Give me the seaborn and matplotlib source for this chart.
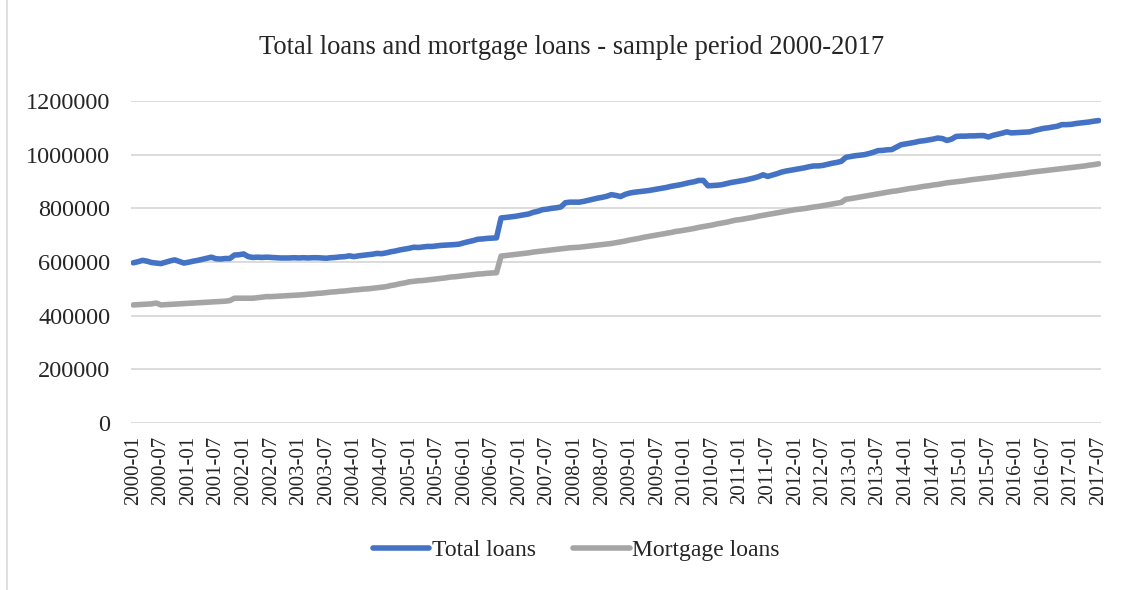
import numpy as np
import pandas as pd
import matplotlib
matplotlib.use("Agg")
import matplotlib.pyplot as plt
from matplotlib.lines import Line2D
import seaborn as sns

# Monthly balances (thousands), January 2000 - July 2017
total_loans_k = [
    597, 601, 606, 603, 598, 596, 594, 599, 604, 608, 602, 596,            # 2000
    599, 603, 606, 610, 614, 618, 612, 611, 613, 613, 626, 627,            # 2001
    630, 620, 617, 618, 617, 618, 617, 616, 615, 615, 615, 616,            # 2002
    615, 616, 615, 616, 616, 615, 614, 616, 617, 619, 620, 623,            # 2003
    620, 623, 625, 627, 629, 632, 631, 634, 638, 641, 645, 648,            # 2004
    651, 655, 654, 656, 658, 658, 660, 662, 663, 664, 665, 667,            # 2005
    672, 676, 680, 685, 686, 688, 689, 690, 764, 766, 768, 770,            # 2006
    773, 776, 779, 785, 789, 795, 797, 800, 802, 805, 821, 823,            # 2007
    823, 823, 826, 830, 834, 838, 841, 845, 851, 848, 844, 852,            # 2008
    857, 860, 862, 864, 866, 869, 872, 875, 878, 882, 885, 888,            # 2009
    892, 896, 899, 904, 904, 884, 885, 886, 888, 892, 896, 899,            # 2010
    902, 905, 909, 913, 918, 925, 919, 924, 929, 935, 939, 942,            # 2011
    945, 948, 951, 955, 958, 958, 960, 964, 968, 971, 975, 990,            # 2012
    993, 996, 998, 1000, 1004, 1009, 1015, 1016, 1018, 1019, 1028, 1037,   # 2013
    1040, 1043, 1046, 1050, 1052, 1055, 1058, 1062, 1060, 1053, 1058, 1068,  # 2014
    1069, 1069, 1070, 1070, 1071, 1071, 1066, 1072, 1076, 1080, 1085, 1081,  # 2015
    1082, 1083, 1084, 1085, 1090, 1094, 1098, 1100, 1103, 1106, 1112, 1112,  # 2016
    1113, 1116, 1118, 1120, 1122, 1125, 1127,                               # 2017
]

mortgage_loans_k = [
    440, 441, 442, 443, 444, 447, 440, 441, 442, 443, 444, 445,            # 2000
    446, 447, 448, 449, 450, 451, 452, 453, 454, 456, 465, 465,            # 2001
    465, 465, 465, 467, 469, 471, 471, 472, 473, 474, 475, 476,            # 2002
    477, 478, 480, 481, 483, 484, 486, 488, 489, 491, 492, 494,            # 2003
    496, 497, 499, 500, 502, 504, 506, 508, 512, 515, 519, 522,            # 2004
    526, 528, 530, 531, 533, 535, 537, 539, 541, 544, 545, 547,            # 2005
    549, 551, 553, 555, 556, 558, 559, 560, 622, 624, 626, 628,            # 2006
    630, 632, 634, 637, 639, 641, 643, 645, 647, 649, 651, 653,            # 2007
    654, 655, 657, 659, 661, 663, 665, 667, 669, 672, 675, 678,            # 2008
    682, 685, 688, 692, 695, 698, 701, 704, 707, 710, 714, 716,            # 2009
    719, 722, 725, 729, 732, 735, 738, 742, 745, 748, 752, 756,            # 2010
    758, 761, 764, 767, 771, 774, 777, 780, 783, 786, 789, 792,            # 2011
    795, 797, 799, 802, 805, 807, 810, 813, 816, 819, 822, 834,            # 2012
    836, 839, 842, 845, 848, 851, 854, 857, 860, 863, 865, 868,            # 2013
    871, 874, 876, 879, 882, 884, 887, 889, 892, 895, 897, 899,            # 2014
    901, 903, 906, 908, 910, 912, 914, 916, 918, 921, 923, 925,            # 2015
    927, 929, 931, 934, 936, 938, 940, 942, 944, 946, 948, 950,            # 2016
    952, 954, 956, 958, 961, 963, 966,                                      # 2017
]

months = pd.period_range("2000-01", "2017-07", freq="M").strftime("%Y-%m").tolist()
series_names = ["Total loans", "Mortgage loans"]
series_colors = ["#4472C4", "#A5A5A5"]
y_ticks = [0, 200000, 400000, 600000, 800000, 1000000, 1200000]

idx = np.arange(len(months))
df = pd.DataFrame({
    "idx": np.concatenate([idx, idx]),
    "value": np.array(total_loans_k + mortgage_loans_k) * 1000,
    "series": [series_names[0]] * len(idx) + [series_names[1]] * len(idx),
})

sns.set_theme(style="white")
plt.rcParams["font.family"] = ["Liberation Serif", "DejaVu Serif"]

fig = plt.figure(figsize=(11.3, 5.9), dpi=100)
ax = fig.add_axes([131 / 1130, 1 - 423 / 590, 970 / 1130, 322 / 590])

sns.lineplot(data=df, x="idx", y="value", hue="series", hue_order=series_names,
             palette=series_colors, linewidth=4.0, ax=ax, legend=False)
for ln in ax.lines:
    ln.set_solid_capstyle("round")
    ln.set_solid_joinstyle("round")

ax.set_xlim(-0.5, len(months) - 0.5)
ax.set_ylim(0, 1200000)
ax.set_yticks(y_ticks)
ax.set_yticklabels([str(v) for v in y_ticks], fontsize=17.5)
tick_pos = idx[::6]
ax.set_xticks(tick_pos)
ax.set_xticklabels([months[i] for i in tick_pos], rotation=90, fontsize=15)
ax.tick_params(axis="y", length=0, pad=15, colors="#262626")
ax.tick_params(axis="x", length=0, pad=9, colors="#262626")
ax.set_xlabel("")
ax.set_ylabel("")

ax.yaxis.grid(True, color="#D9D9D9", linewidth=1.3)
ax.xaxis.grid(False)
ax.set_axisbelow(True)
for s in ax.spines.values():
    s.set_visible(False)

fig.text(572 / 1130, 1 - 48 / 590, "Total loans and mortgage loans - sample period 2000-2017",
         ha="center", va="center", fontsize=19.2, color="#262626")

handles = [Line2D([0], [0], color=c, linewidth=4.0, solid_capstyle="round") for c in series_colors]
fig.legend(handles, series_names, loc="center", bbox_to_anchor=(0.51, 1 - 550 / 590),
           ncol=2, frameon=False, fontsize=17, handlelength=2.4, handletextpad=0.1,
           columnspacing=1.6)

# chart-area border on the left edge
fig.add_artist(Line2D([7 / 1130, 7 / 1130], [0, 1], transform=fig.transFigure,
                      color="#D9D9D9", linewidth=1.2))

fig.savefig("out.png", dpi=100, facecolor="white")
